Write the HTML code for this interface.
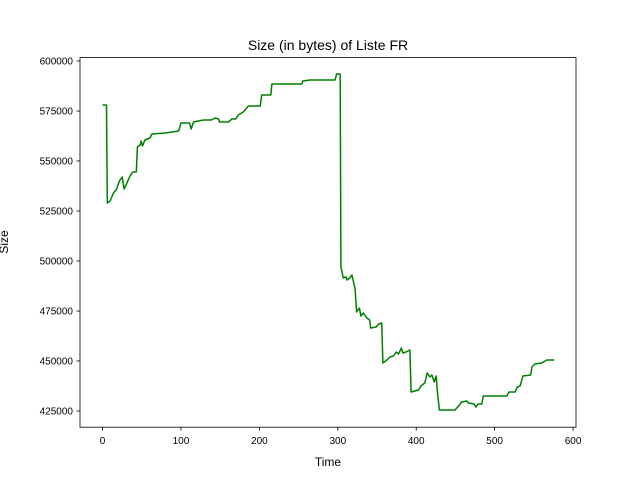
<!DOCTYPE html>
<html><head><meta charset="utf-8"><style>
body{margin:0;background:#fff}
svg{font-family:"Liberation Sans","DejaVu Sans",sans-serif}
</style></head><body>
<svg id="chart" width="640" height="480" viewBox="0 0 640 480" xmlns="http://www.w3.org/2000/svg">
<rect width="640" height="480" fill="#fff"/>
<text x="328" y="50" text-anchor="middle" font-size="14">Size (in bytes) of Liste FR</text>
<text x="328" y="466" text-anchor="middle" font-size="12">Time</text>
<text x="0" y="0" transform="translate(8,242) rotate(-90)" text-anchor="middle" font-size="12">Size</text>
<g id="ticks"></g>
<polyline id="line" fill="none" stroke="#008000" stroke-width="1.5" stroke-linejoin="round"/>
<rect x="80" y="57.6" width="496" height="369.6" fill="none" stroke="#000" stroke-width="0.8"/>
</svg>
<script>
const xs=[0,5,6,9.5,14,18,21.5,25,27.5,31,35,38.5,43,44.5,48,49,51,54,60.5,63,80,97,100,111,113,116,122,128.5,139,143.5,148,149,160.5,165,170,173,179.5,186,201,203,214.5,216,254,255.5,264.5,296.5,298.5,303,304,307,310.5,312,315,318,320,322,324,327.5,329.5,332.5,337,340.5,342,349,352,356,357.5,362.5,366.5,371,374.5,377.5,381,383,387,392,393.5,403,406,411,414,417.5,420,423,425.5,427,429.5,449.5,454,458,464.5,466.5,474,476,479,483.5,485.5,515.5,518.5,526,529,532.5,536,546,547.5,551.5,560,566.5,576];
const ys=[578000,578000,529000,530000,534000,536000,540000,542000,536000,539000,542500,544500,544500,557000,558000,560000,557500,560500,561500,563500,564000,565000,569000,569000,566000,569500,570000,570500,570500,571500,571000,569500,569500,571000,571000,573000,574500,577500,577500,583000,583000,588500,588500,590000,590500,590500,593500,593500,497000,491500,492000,490500,491500,493000,489500,486000,474500,476500,472500,474000,471500,470500,466500,467000,468500,469000,449000,450500,452000,452500,454500,453500,456500,454000,454500,455500,434500,435500,437500,439000,444000,442000,443000,439500,442500,434500,425500,425500,427500,429500,430000,429000,428500,427000,428500,428500,432500,432500,434500,434500,437000,437500,442500,443000,447000,448500,449000,450500,450500];
const xTicks=[0,100,200,300,400,500,600];
const yTicks=[425000,450000,475000,500000,525000,550000,575000,600000];
const X=v=>80+(v+28.75)*496/632.5;
const Y=v=>427.2-(v-416900)*0.002;
document.getElementById('line').setAttribute('points',xs.map((x,i)=>X(x).toFixed(1)+','+Y(ys[i]).toFixed(1)).join(' '));
const g=document.getElementById('ticks');
const NS='http://www.w3.org/2000/svg';
xTicks.forEach(t=>{
  const l=document.createElementNS(NS,'line');
  
  
  l.setAttribute('x1',X(t));l.setAttribute('x2',X(t));l.setAttribute('y1',427.2);l.setAttribute('y2',430.7);l.setAttribute('stroke','#000');l.setAttribute('stroke-width','0.8');
  g.appendChild(l);
  const tx=document.createElementNS(NS,'text');
  
  
  tx.setAttribute('x',X(t));tx.setAttribute('y',444);tx.setAttribute('text-anchor','middle');tx.setAttribute('font-size','10');
  tx.textContent=t;g.appendChild(tx);
});
yTicks.forEach(t=>{
  const l=document.createElementNS(NS,'line');
  
  
  l.setAttribute('x1',76.5);l.setAttribute('x2',80);l.setAttribute('y1',Y(t));l.setAttribute('y2',Y(t));l.setAttribute('stroke','#000');l.setAttribute('stroke-width','0.8');
  g.appendChild(l);
  const tx=document.createElementNS(NS,'text');
  
  
  tx.setAttribute('x',73);tx.setAttribute('y',Y(t)+3.6);tx.setAttribute('text-anchor','end');tx.setAttribute('font-size','10');
  tx.textContent=t;g.appendChild(tx);
});
</script>
</body></html>
